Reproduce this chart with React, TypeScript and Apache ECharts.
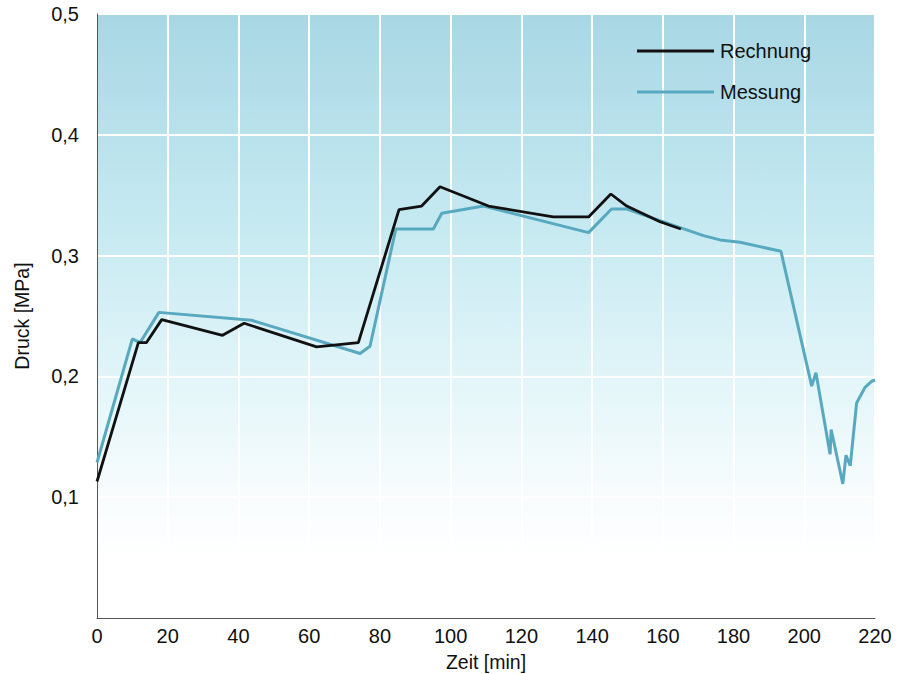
import React, { useEffect, useRef } from "react";
import * as echarts from "echarts";

const rechnungX = [0, 11.7, 14, 18.3, 35.5, 41.6, 62.1, 73.9, 85.4, 91.8, 97, 110.7, 129, 139, 145.3, 149.8, 159.2, 165.1];
const rechnungY = [0.113, 0.228, 0.228, 0.247, 0.234, 0.244, 0.2245, 0.228, 0.338, 0.341, 0.357, 0.341, 0.332, 0.332, 0.351, 0.341, 0.328, 0.322];

const messungX = [0, 10, 12.2, 17.5, 43.7, 74.4, 77.2, 84.5, 95.1, 97.5, 109.3, 139, 145.5, 149.8, 159.2, 165.1, 171.5, 176.2, 181.8, 193.4, 202.1, 203.3, 207.3, 207.6, 210.9, 211.8, 213, 214.8, 217.2, 219.1, 220];
const messungY = [0.1287, 0.231, 0.228, 0.253, 0.2465, 0.219, 0.225, 0.322, 0.322, 0.335, 0.341, 0.319, 0.3386, 0.3386, 0.329, 0.323, 0.3165, 0.313, 0.311, 0.3036, 0.192, 0.203, 0.1355, 0.156, 0.111, 0.1347, 0.126, 0.178, 0.191, 0.196, 0.197];

const seriesNames = ["Rechnung", "Messung"];

const FONT = "'Liberation Sans', Arial, Helvetica, sans-serif";

export default function App() {
  const ref = useRef<HTMLDivElement>(null);
  useEffect(() => {
    if (!ref.current) return;
    const chart = echarts.init(ref.current, null, { renderer: "svg" });
    const zip = (xs: number[], ys: number[]) => xs.map((x, i) => [x, ys[i]]);
    chart.setOption({
      animation: false,
      backgroundColor: "#ffffff",
      textStyle: { fontFamily: FONT },
      grid: {
        left: 97,
        right: 25,
        top: 14,
        bottom: 56,
        outerBoundsMode: "none",
        containLabel: false,
        show: true,
        borderColor: "#555555",
        borderWidth: 1,
        backgroundColor: new echarts.graphic.LinearGradient(0, 0, 0, 1, [
          { offset: 0, color: "#a8d7e4" },
          { offset: 0.34, color: "#c5e9f1" },
          { offset: 0.64, color: "#e6f7fa" },
          { offset: 0.8, color: "#f8fcfd" },
          { offset: 0.9, color: "#ffffff" },
          { offset: 1, color: "#ffffff" },
        ]),
      },
      legend: {
        orient: "vertical",
        left: 632,
        top: 35,
        icon: "rect",
        itemWidth: 77,
        itemHeight: 3,
        itemGap: 19,
        data: seriesNames,
        textStyle: { fontSize: 20, color: "#111", fontFamily: FONT, lineHeight: 22, padding: [0, 0, 0, 1] },
      },
      xAxis: {
        type: "value",
        min: 0,
        max: 220,
        interval: 20,
        name: "Zeit [min]",
        nameLocation: "middle",
        nameGap: 34,
        nameTextStyle: { fontSize: 19.5, color: "#111", fontFamily: FONT },
        axisLine: { show: true, lineStyle: { color: "#555", width: 1 } },
        axisTick: { show: false },
        axisLabel: { fontSize: 20, color: "#111", margin: 8, fontFamily: FONT },
        splitLine: { show: true, lineStyle: { color: "#ffffff", width: 2 } },
      },
      yAxis: {
        type: "value",
        min: 0,
        max: 0.5,
        interval: 0.1,
        name: "Druck [MPa]",
        nameLocation: "middle",
        nameGap: 65,
        nameTextStyle: { fontSize: 19.5, color: "#111", fontFamily: FONT },
        axisLine: { show: true, lineStyle: { color: "#555", width: 1 } },
        axisTick: { show: false },
        axisLabel: {
          fontSize: 20,
          color: "#111",
          margin: 18,
          fontFamily: FONT,
          formatter: (v: number) => (v === 0 ? "" : v.toFixed(1).replace(".", ",")),
        },
        splitLine: { show: true, lineStyle: { color: "#ffffff", width: 2 } },
      },
      series: [
        {
          name: seriesNames[1],
          type: "line",
          data: zip(messungX, messungY),
          showSymbol: false,
          symbol: "none",
          lineStyle: { color: "#58a9bf", width: 3 },
          itemStyle: { color: "#58a9bf" },
          z: 2,
        },
        {
          name: seriesNames[0],
          type: "line",
          data: zip(rechnungX, rechnungY),
          showSymbol: false,
          symbol: "none",
          lineStyle: { color: "#111111", width: 2.8 },
          itemStyle: { color: "#111111" },
          z: 3,
        },
      ],
    });
    return () => chart.dispose();
  }, []);
  return <div ref={ref} style={{ width: 900, height: 674, position: "absolute", left: 0, top: 0 }} />;
}
